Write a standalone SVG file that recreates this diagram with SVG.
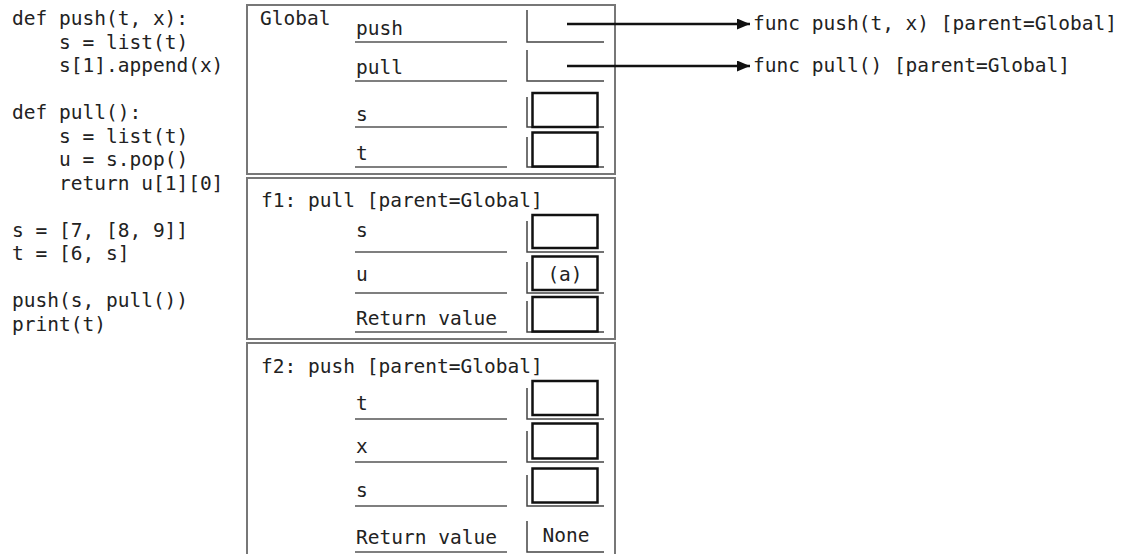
<svg xmlns="http://www.w3.org/2000/svg" width="1123" height="554" viewBox="0 0 1123 554">
<style>
text{font-family:"DejaVu Sans Mono","Liberation Mono",monospace;font-size:19.5px;fill:#222}
.frame{fill:#fff;stroke:#777;stroke-width:2}
.ul{stroke:#555;stroke-width:1.5}
.vbar{stroke:#444;stroke-width:1.5;fill:none}
.box{fill:#fff;stroke:#111;stroke-width:2.5}
.arr{stroke:#111;stroke-width:2.5;fill:none}
.mid{text-anchor:middle}
</style>
<defs>
<marker id="ah" viewBox="0 0 13 11" refX="13" refY="5.5" markerWidth="13" markerHeight="11" markerUnits="userSpaceOnUse" orient="auto">
<path d="M0,0 L13,5.5 L0,11 Z" fill="#111"/>
</marker>
</defs>
<rect width="1123" height="554" fill="#fff"/>

<g id="code">
<text x="12" y="25">def push(t, x):</text>
<text x="59" y="48.5">s = list(t)</text>
<text x="59" y="72">s[1].append(x)</text>
<text x="12" y="119">def pull():</text>
<text x="59" y="142.5">s = list(t)</text>
<text x="59" y="166">u = s.pop()</text>
<text x="59" y="189.5">return u[1][0]</text>
<text x="12" y="236.5">s = [7, [8, 9]]</text>
<text x="12" y="260">t = [6, s]</text>
<text x="12" y="307">push(s, pull())</text>
<text x="12" y="330.5">print(t)</text>
</g>

<g id="frame-global">
<rect class="frame" x="247" y="5" width="368" height="169"/>
<text x="260" y="25">Global</text>
<text x="356" y="35">push</text>
<line class="ul" x1="355" y1="42" x2="507" y2="42"/>
<path class="vbar" d="M527,10 V42 H604"/>
<text x="356" y="74">pull</text>
<line class="ul" x1="355" y1="81" x2="507" y2="81"/>
<path class="vbar" d="M527,50 V81 H604"/>
<text x="356" y="121">s</text>
<line class="ul" x1="355" y1="127" x2="507" y2="127"/>
<path class="vbar" d="M527,97 V127 H604"/>
<rect class="box" x="532.5" y="93" width="65" height="34"/>
<text x="356" y="160">t</text>
<line class="ul" x1="355" y1="167" x2="507" y2="167"/>
<path class="vbar" d="M527,137 V167 H604"/>
<rect class="box" x="532.5" y="132.5" width="65" height="34"/>
</g>

<g id="frame-f1">
<rect class="frame" x="247" y="178" width="368" height="161"/>
<text x="261" y="207">f1: pull [parent=Global]</text>
<text x="356" y="237">s</text>
<line class="ul" x1="355" y1="252" x2="507" y2="252"/>
<path class="vbar" d="M527,221 V252 H604"/>
<rect class="box" x="532.5" y="215" width="65" height="33"/>
<text x="356" y="281">u</text>
<line class="ul" x1="355" y1="293" x2="507" y2="293"/>
<path class="vbar" d="M527,262 V293 H604"/>
<rect class="box" x="532.5" y="256.5" width="65" height="33.5"/>
<text class="mid" x="565" y="281">(a)</text>
<text x="356" y="325">Return value</text>
<line class="ul" x1="355" y1="332" x2="507" y2="332"/>
<path class="vbar" d="M527,301 V332 H604"/>
<rect class="box" x="532.5" y="297" width="65" height="34.5"/>
</g>

<g id="frame-f2">
<rect class="frame" x="247" y="343" width="368" height="220"/>
<text x="261" y="373">f2: push [parent=Global]</text>
<text x="356" y="410">t</text>
<line class="ul" x1="355" y1="419" x2="507" y2="419"/>
<path class="vbar" d="M527,388 V419 H604"/>
<rect class="box" x="532.5" y="381" width="65" height="34"/>
<text x="356" y="453">x</text>
<line class="ul" x1="355" y1="462" x2="507" y2="462"/>
<path class="vbar" d="M527,431 V462 H604"/>
<rect class="box" x="532.5" y="423.5" width="65" height="35"/>
<text x="356" y="497">s</text>
<line class="ul" x1="355" y1="506" x2="507" y2="506"/>
<path class="vbar" d="M527,475 V506 H604"/>
<rect class="box" x="532.5" y="468.5" width="65" height="34"/>
<text x="356" y="544">Return value</text>
<line class="ul" x1="355" y1="552" x2="507" y2="552"/>
<path class="vbar" d="M527,521 V552 H604"/>
<text class="mid" x="566" y="542">None</text>
</g>

<g id="func-push">
<text x="753" y="30">func push(t, x) [parent=Global]</text>
</g>
<g id="func-pull">
<text x="753" y="72">func pull() [parent=Global]</text>
</g>

<g id="connectors">
<line class="arr" x1="567" y1="24" x2="750" y2="24" marker-end="url(#ah)"/>
<line class="arr" x1="567" y1="66" x2="750" y2="66" marker-end="url(#ah)"/>
</g>
</svg>
